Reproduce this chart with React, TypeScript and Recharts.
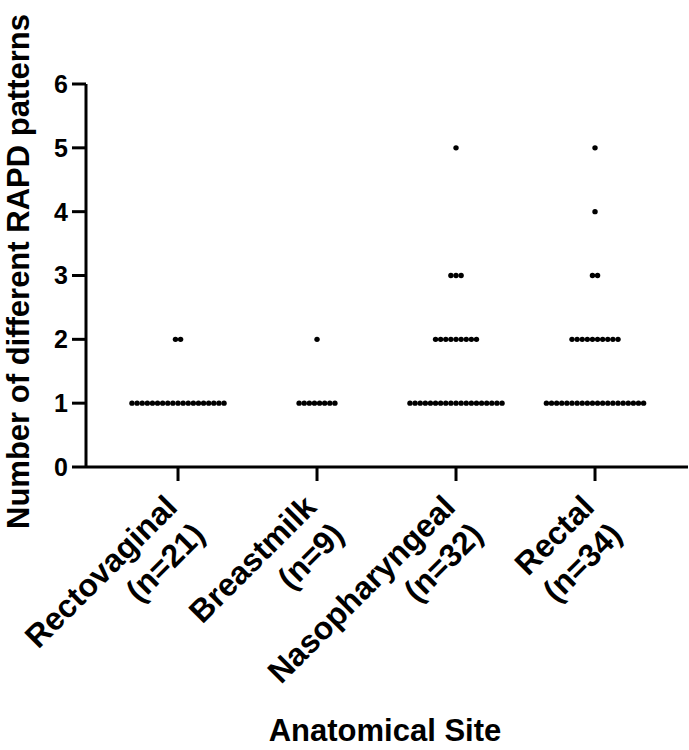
import { Label, Scatter, ScatterChart, XAxis, YAxis } from "recharts";

const categories = ["Rectovaginal", "Breastmilk", "Nasopharyngeal", "Rectal"];
const sampleSizes = [21, 9, 32, 34];
const patternLevels = [1, 2, 3, 4, 5];
const yTicks = [0, 1, 2, 3, 4, 5, 6];

// isolates per number of RAPD patterns (1..5)
const rectovaginalCounts = [19, 2, 0, 0, 0];
const breastmilkCounts = [8, 1, 0, 0, 0];
const nasopharyngealCounts = [19, 9, 3, 0, 1];
const rectalCounts = [20, 10, 2, 1, 1];

const countsBySite = [rectovaginalCounts, breastmilkCounts, nasopharyngealCounts, rectalCounts];

// horizontal spread of a row of dots, in category units
const DOT_STEP = 0.0368;

const siteSeries = countsBySite.map((counts, ci) => {
	const points: { x: number; y: number }[] = [];
	counts.forEach((c, li) => {
		for (let i = 0; i < c; i++) {
			points.push({ x: ci + (i - (c - 1) / 2) * DOT_STEP, y: patternLevels[li] });
		}
	});
	return { name: categories[ci], points };
});

const FONT = "'Liberation Sans', Arial, Helvetica, sans-serif";

function SiteTick(props: any) {
	const { x, y, payload } = props;
	const i = Math.round(payload.value);
	return (
		<g transform={`translate(${x + 1},${y + 26})`}>
			<text
				transform="rotate(-45)"
				textAnchor="end"
				fontFamily={FONT}
				fontWeight="bold"
				fontSize={32}
				fill="#000"
			>
				<tspan x={0} dy={0}>
					{categories[i]}
				</tspan>
				<tspan x={0} dy={39}>
					(n={sampleSizes[i]})
				</tspan>
			</text>
		</g>
	);
}

function Dot(props: any) {
	return <circle cx={props.cx} cy={props.cy} r={2.7} fill="#000" />;
}

export default function App() {
	return (
		<div style={{ position: "absolute", left: 0, top: 0, background: "#fff" }}>
			<ScatterChart width={689} height={750} margin={{ top: 84, right: 1, bottom: 0, left: 0 }}>
				<XAxis
					type="number"
					dataKey="x"
					domain={[-0.662, 3.669]}
					ticks={[0, 1, 2, 3]}
					interval={0}
					height={283}
					axisLine={{ stroke: "#000", strokeWidth: 3 }}
					tickLine={{ stroke: "#000", strokeWidth: 3 }}
					tickSize={14}
					tick={<SiteTick />}
				>
					<Label
						content={(p: any) => {
							const vb = p.viewBox;
							return (
								<text
									x={vb.x + vb.width / 2 - 2}
									y={741}
									textAnchor="middle"
									fontFamily={FONT}
									fontWeight="bold"
									fontSize={31}
									fill="#000"
								>
									Anatomical Site
								</text>
							);
						}}
					/>
				</XAxis>
				<YAxis
					type="number"
					dataKey="y"
					domain={[0, 6]}
					ticks={yTicks}
					interval={0}
					width={86}
					axisLine={{ stroke: "#000", strokeWidth: 3 }}
					tickLine={{ stroke: "#000", strokeWidth: 3 }}
					tickSize={14}
					tickMargin={4}
					tick={{ fill: "#000", fontSize: 25, fontWeight: "bold", fontFamily: FONT }}
				>
					<Label
						content={(p: any) => {
							const vb = p.viewBox;
							const cy = vb.y + vb.height / 2 - 4;
							return (
								<text
									transform={`translate(29,${cy}) rotate(-90)`}
									textAnchor="middle"
									fontFamily={FONT}
									fontWeight="bold"
									fontSize={31}
									fill="#000"
								>
									Number of different RAPD patterns
								</text>
							);
						}}
					/>
				</YAxis>
				{siteSeries.map((s) => (
					<Scatter key={s.name} name={s.name} data={s.points} shape={<Dot />} isAnimationActive={false} />
				))}
			</ScatterChart>
		</div>
	);
}
